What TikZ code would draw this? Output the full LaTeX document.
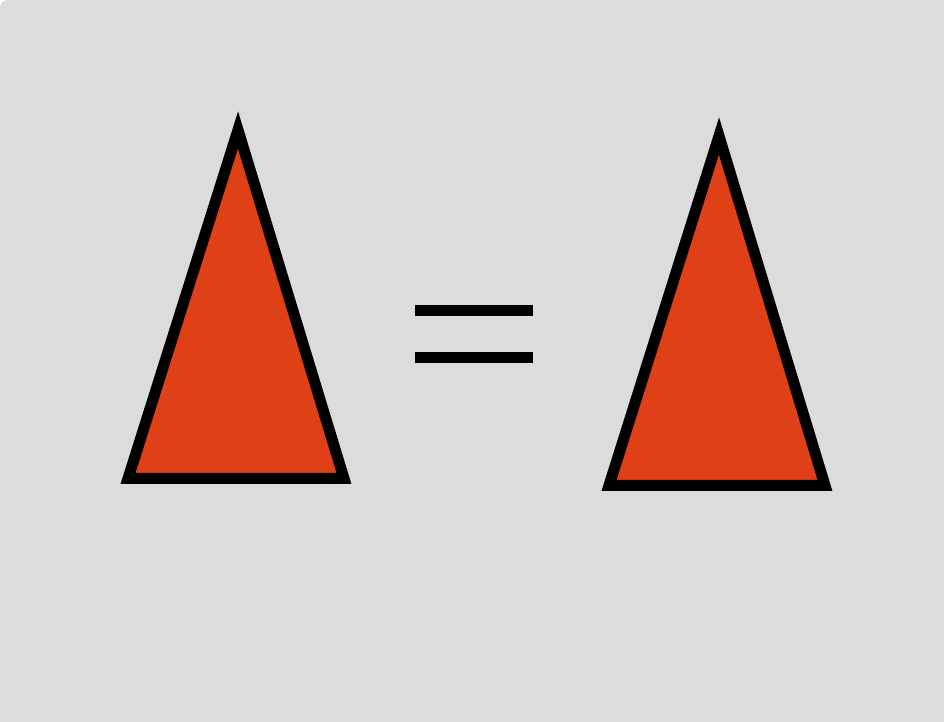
\documentclass[tikz,border=0pt]{standalone}
\usepackage{tikz}
\definecolor{bggray}{RGB}{220,220,220}
\definecolor{conered}{RGB}{224,64,24}
\tikzset{
  tri/.style={fill=conered,draw=black,line width=0.11cm,line join=miter},
  bar/.style={draw=black,line width=0.11cm}
}
\begin{document}
\begin{tikzpicture}[x=0.01cm,y=-0.01cm]
\useasboundingbox(0,0)rectangle(944,722);
\fill[white](0,0)rectangle(944,722);
\fill[bggray](0,722)[rounded corners=0.08cm]--(0,0)[sharp corners]--(944,0)--(944,722)--cycle;
\coordinate(la)at(238,130);
\coordinate(lb)at(128,478.5);
\coordinate(lc)at(344,478.5);
\coordinate(ra)at(719,136);
\coordinate(rb)at(609,485.5);
\coordinate(rc)at(825,485.5);
\draw[tri](la)--(lb)--(lc)--cycle;
\draw[tri](ra)--(rb)--(rc)--cycle;
\coordinate(e1)at(415,310.5);
\coordinate(e2)at(533,310.5);
\coordinate(e3)at(415,357.5);
\coordinate(e4)at(533,357.5);
\draw[bar](e1)--(e2);
\draw[bar](e3)--(e4);
\end{tikzpicture}
\end{document}
